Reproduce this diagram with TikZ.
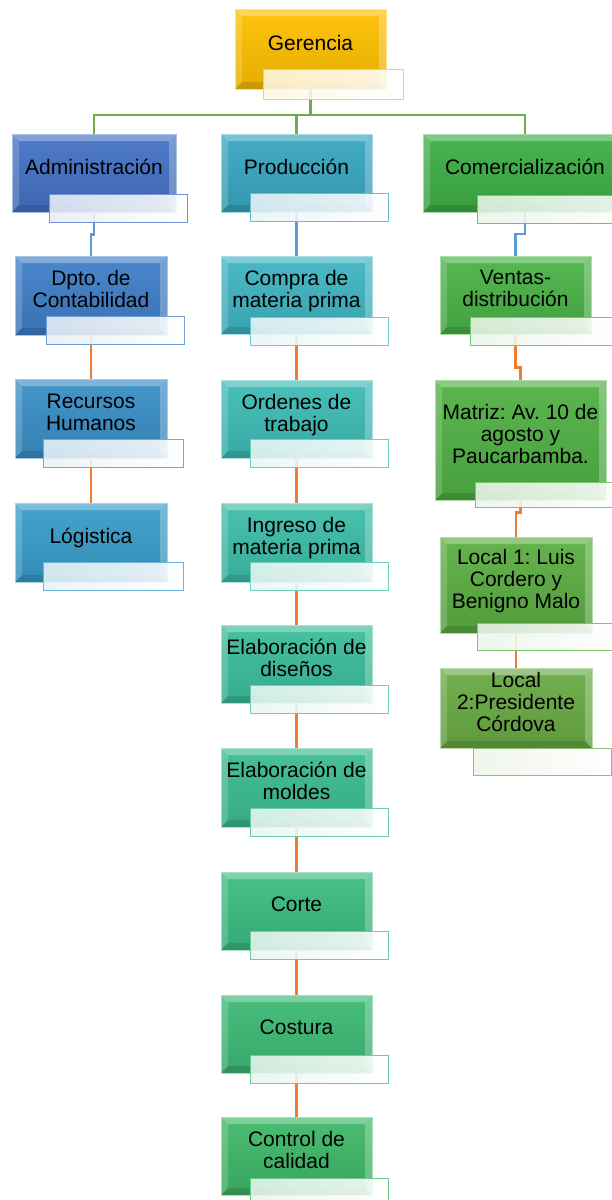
\documentclass[tikz,border=0pt]{standalone}
\usepackage{fontspec}
\setmainfont{Liberation Sans}
\frenchspacing
\usetikzlibrary{calc,backgrounds}

\definecolor{cGer}{HTML}{FFC000}
\definecolor{cAdm}{HTML}{4472C4}
\definecolor{cDpto}{HTML}{3F7FC8}
\definecolor{cRrhh}{HTML}{3A8FC6}
\definecolor{cLog}{HTML}{389DC9}
\definecolor{cProd}{HTML}{38A7C1}
\definecolor{cCompra}{HTML}{3FB5C3}
\definecolor{cOrden}{HTML}{3EBCB6}
\definecolor{cIngreso}{HTML}{3DBEA9}
\definecolor{cDiseno}{HTML}{3BBE9C}
\definecolor{cMolde}{HTML}{3BBD8F}
\definecolor{cCorte}{HTML}{3CBC82}
\definecolor{cCostura}{HTML}{3DBA75}
\definecolor{cControl}{HTML}{3FB868}
\definecolor{cCom}{HTML}{3DAF45}
\definecolor{cVentas}{HTML}{4AB347}
\definecolor{cMatriz}{HTML}{50B144}
\definecolor{cLocalA}{HTML}{5BAE43}
\definecolor{cLocalB}{HTML}{69AB44}
\definecolor{cBus}{HTML}{70AD47}
\definecolor{cBlue}{HTML}{5B9BD5}
\definecolor{cOrange}{HTML}{ED7D31}

\tikzset{
  bevel/.style={path picture={
    \fill[white,opacity=.3] (path picture bounding box.north west) -- (path picture bounding box.north east)
      -- ([shift={(-7pt,-7pt)}]path picture bounding box.north east) -- ([shift={(7pt,-7pt)}]path picture bounding box.north west) -- cycle;
    \fill[white,opacity=.18] (path picture bounding box.north west) -- ([shift={(7pt,-7pt)}]path picture bounding box.north west)
      -- ([shift={(7pt,7pt)}]path picture bounding box.south west) -- (path picture bounding box.south west) -- cycle;
    \fill[black,opacity=.12] (path picture bounding box.south west) -- (path picture bounding box.south east)
      -- ([shift={(-7pt,7pt)}]path picture bounding box.south east) -- ([shift={(7pt,7pt)}]path picture bounding box.south west) -- cycle;
    \fill[white,opacity=.25] (path picture bounding box.north east) -- ([shift={(-7pt,-7pt)}]path picture bounding box.north east)
      -- ([shift={(-7pt,7pt)}]path picture bounding box.south east) -- (path picture bounding box.south east) -- cycle;
  }},
  box/.style={rectangle, draw=#1!45!white, line width=1pt, top color=#1!94!white, bottom color=#1!90!black,
    minimum width=151pt, minimum height=78pt, inner sep=0pt, align=center, text depth=13pt,
    font=\fontsize{21}{22}\selectfont, bevel},
  sub/.style={rectangle, draw=#1!75!white, line width=1.2pt, left color=#1!12!white, right color=white,
    fill opacity=.88, minimum width=138pt, minimum height=28pt, anchor=north west, inner sep=0pt},
  busline/.style={draw=cBus, line width=2.5pt},
  blueline/.style={draw=cBlue, line width=2.5pt},
  orline/.style={draw=cOrange, line width=2.5pt},
  elbow/.style={to path={|- ($(\tikztostart)!.5!(\tikztotarget)$) -| (\tikztotarget)}}
}

\begin{document}
\begin{tikzpicture}[x=1pt,y=-1pt]
  \useasboundingbox (0,0) rectangle (611,1200);
  % Gerencia
  \node[box=cGer, minimum height=80pt] (ger) at (310.5,49) {Gerencia};
  \node[sub=cGer, minimum width=140pt, minimum height=30pt] (ger-s) at (263,69) {};
  % Administracion
  \node[box=cAdm, minimum width=164pt] (adm) at (94,173) {Administración};
  \node[sub=cAdm] (adm-s) at (49,194) {};
  \node[box=cDpto, minimum width=152pt, minimum height=79pt] (dpto) at (91,295.5) {Dpto. de\\Contabilidad};
  \node[sub=cDpto] (dpto-s) at (46,316) {};
  \node[box=cRrhh, minimum width=152pt, minimum height=79pt] (rrhh) at (91,418.5) {Recursos\\Humanos};
  \node[sub=cRrhh, minimum width=140pt] (rrhh-s) at (43,439) {};
  \node[box=cLog, minimum width=152pt, minimum height=79pt] (log) at (91,542.5) {Lógistica};
  \node[sub=cLog, minimum width=140pt] (log-s) at (43,562) {};
  % Produccion
  \node[box=cProd] (prod) at (296.5,173) {Producción};
  \node[sub=cProd] (prod-s) at (250,193) {};
  \node[box=cCompra] (compra) at (296.5,295) {Compra de\\materia prima};
  \node[sub=cCompra] (compra-s) at (250,317) {};
  \node[box=cOrden] (orden) at (296.5,419) {Ordenes de\\trabajo};
  \node[sub=cOrden] (orden-s) at (250,439) {};
  \node[box=cIngreso, minimum height=79pt] (ingreso) at (296.5,542.5) {Ingreso de\\materia prima};
  \node[sub=cIngreso] (ingreso-s) at (250,562) {};
  \node[box=cDiseno] (diseno) at (296.5,664) {Elaboración de\\diseños};
  \node[sub=cDiseno] (diseno-s) at (250,685) {};
  \node[box=cMolde, minimum height=79pt] (molde) at (296.5,787.5) {Elaboración de\\moldes};
  \node[sub=cMolde] (molde-s) at (250,808) {};
  \node[box=cCorte] (corte) at (296.5,911) {Corte};
  \node[sub=cCorte] (corte-s) at (250,931) {};
  \node[box=cCostura] (costura) at (296.5,1034) {Costura};
  \node[sub=cCostura] (costura-s) at (250,1055) {};
  \node[box=cControl] (control) at (296.5,1156) {Control de\\calidad};
  \node[sub=cControl] (control-s) at (250,1178) {};
  % Comercializacion
  \node[box=cCom, minimum width=204pt] (com) at (525,173) {Comercialización};
  \node[sub=cCom, minimum width=160pt] (com-s) at (477,195) {};
  \node[box=cVentas] (ventas) at (515.5,295) {Ventas-\\distribución};
  \node[sub=cVentas, minimum width=145pt] (ventas-s) at (470,317) {};
  \node[box=cMatriz, minimum width=171pt, minimum height=120pt] (matriz) at (520.5,440) {Matriz: Av. 10 de\\agosto y\\Paucarbamba.};
  \node[sub=cMatriz, minimum height=25pt] (matriz-s) at (475,482) {};
  \node[box=cLocalA, minimum width=152pt, minimum height=96pt] (localA) at (516,585) {Local 1: Luis\\Cordero y\\Benigno Malo};
  \node[sub=cLocalA, minimum height=27pt] (localA-s) at (477,623) {};
  \node[box=cLocalB, minimum width=152pt, minimum height=80pt] (localB) at (516,708) {Local\\2:Presidente\\Córdova};
  \node[sub=cLocalB, minimum height=27pt] (localB-s) at (473,748) {};
  % conectores
  \coordinate (bus) at (0,115);
  \begin{scope}[on background layer]
    \fill[white] (0,0) rectangle (611,1200);
    \draw[busline] (ger.center) -- (ger |- bus);
    \draw[busline] (adm.center) |- (com |- bus) -- (com.center);
    \draw[busline] (prod.center) -- (prod |- bus);
    \draw[blueline] (adm.center) to[elbow] (dpto.center);
    \draw[blueline] (prod.center) -- (compra.center);
    \draw[blueline] (com.center) to[elbow] (ventas.center);
    \draw[orline] (dpto.center) -- (rrhh.center) -- (log.center);
    \draw[orline] (compra.center) -- (orden.center) -- (ingreso.center) -- (diseno.center)
      -- (molde.center) -- (corte.center) -- (costura.center) -- (control.center);
    \draw[orline] (ventas.center) to[elbow] (matriz.center);
    \draw[orline] (matriz.center) to[elbow] (localA.center);
    \draw[orline] (localA.center) -- (localB.center);
  \end{scope}
\end{tikzpicture}
\end{document}
